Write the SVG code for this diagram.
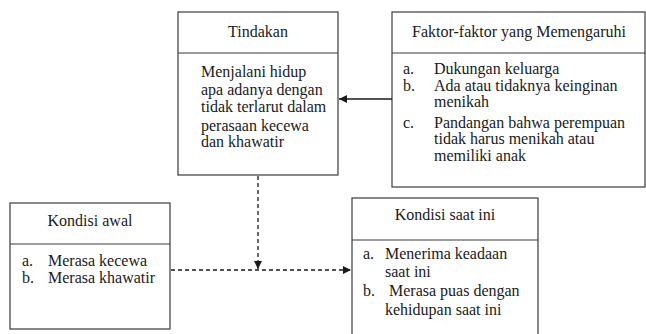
<svg xmlns="http://www.w3.org/2000/svg" width="646" height="334" viewBox="0 0 646 334">
<defs>
<style>
.box{fill:#fff;stroke:#3a3a3a;stroke-width:1.2}
.div{stroke:#3a3a3a;stroke-width:1.2}
text{font-family:"Liberation Serif","Times New Roman",serif;font-size:16px;fill:#1a1a1a}
.t{text-anchor:middle}
.ln{stroke:#1a1a1a;stroke-width:1.3;fill:none}
.dash{stroke-dasharray:4 3}
</style>
<marker id="ah" viewBox="0 0 10 10" refX="10" refY="5" markerWidth="8" markerHeight="8" markerUnits="userSpaceOnUse" orient="auto">
<path d="M0,0 L10,5 L0,10 z" fill="#1a1a1a"/>
</marker>
</defs>
<rect width="646" height="334" fill="#fff"/>
<g id="tindakan">
<rect class="box" x="178" y="12" width="160" height="163"/>
<line class="div" x1="178" y1="53" x2="338" y2="53"/>
<text class="t" x="258" y="37">Tindakan</text>
<text x="201" y="77">Menjalani hidup</text>
<text x="201" y="95">apa adanya dengan</text>
<text x="201" y="112">tidak terlarut dalam</text>
<text x="201" y="131">perasaan kecewa</text>
<text x="201" y="147">dan khawatir</text>
</g>
<g id="faktor">
<rect class="box" x="392" y="12" width="253" height="175"/>
<line class="div" x1="392" y1="53" x2="645" y2="53"/>
<text class="t" x="519" y="37">Faktor-faktor yang Memengaruhi</text>
<text x="403" y="74">a.</text><text x="434" y="74">Dukungan keluarga</text>
<text x="403" y="91">b.</text><text x="434" y="91">Ada atau tidaknya keinginan</text>
<text x="434" y="107">menikah</text>
<text x="403" y="128">c.</text><text x="434" y="128">Pandangan bahwa perempuan</text>
<text x="434" y="144">tidak harus menikah atau</text>
<text x="434" y="161">memiliki anak</text>
</g>
<g id="kondisi-awal">
<rect class="box" x="10" y="203" width="160" height="126"/>
<line class="div" x1="10" y1="244" x2="170" y2="244"/>
<text class="t" x="90" y="226">Kondisi awal</text>
<text x="22" y="266">a.</text><text x="48" y="266">Merasa kecewa</text>
<text x="22" y="283">b.</text><text x="48" y="283">Merasa khawatir</text>
</g>
<g id="kondisi-saat-ini">
<rect class="box" x="352" y="198" width="186" height="150"/>
<line class="div" x1="352" y1="240" x2="538" y2="240"/>
<text class="t" x="445" y="220">Kondisi saat ini</text>
<text x="363" y="259">a.</text><text x="385" y="259">Menerima keadaan</text>
<text x="385" y="277">saat ini</text>
<text x="363" y="296">b.</text><text x="389" y="296">Merasa puas dengan</text>
<text x="385" y="315">kehidupan saat ini</text>
</g>
<g id="connectors">
<line class="ln" x1="392" y1="99" x2="339" y2="99" marker-end="url(#ah)"/>
<line class="ln dash" x1="258" y1="176" x2="258" y2="269" marker-end="url(#ah)"/>
<line class="ln dash" x1="171" y1="270" x2="351" y2="270" marker-end="url(#ah)"/>
</g>
</svg>
